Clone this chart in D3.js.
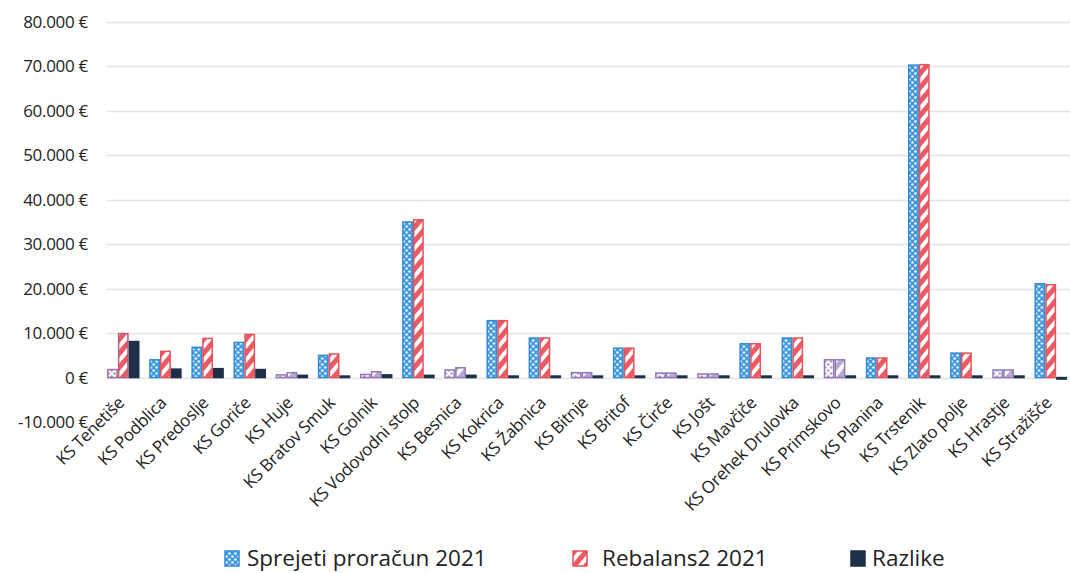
<!DOCTYPE html>
<html>
<head>
<meta charset="utf-8">
<script src="https://cdn.jsdelivr.net/npm/d3@7"></script>
<style>
  html, body { margin: 0; padding: 0; background: #fff; }
  svg { display: block; font-family: "Open Sans", "DejaVu Sans", sans-serif; }
</style>
</head>
<body>
<svg id="chart" width="1070" height="573"></svg>
<script>
// ---- data ----
const categories = ["KS Tenetiše","KS Podblica","KS Predoslje","KS Goriče","KS Huje","KS Bratov Smuk","KS Golnik","KS Vodovodni stolp","KS Besnica","KS Kokrica","KS Žabnica","KS Bitnje","KS Britof","KS Čirče","KS Jošt","KS Mavčiče","KS Orehek Drulovka","KS Primskovo","KS Planina","KS Trstenik","KS Zlato polje","KS Hrastje","KS Stražišče"];
const sprejeti  = [1800, 4000, 6800, 7900,  600, 5000,  700, 35000, 1700, 12800, 8900, 1100, 6600, 1000,  800, 7600, 8900, 4000, 4400, 70300, 5500, 1700, 21100];
const rebalans  = [9900, 5900, 8800, 9700, 1100, 5300, 1300, 35500, 2200, 12800, 8900, 1100, 6600, 1000,  800, 7600, 8900, 4000, 4400, 70400, 5500, 1700, 20900];
const razlike   = [8100, 1900, 2000, 1800,  500,  300,  600,   500,  500,   100,  100,    0,    0,    0,    0,    0,    0,    0,    0,   100,    0,    0,  -200];
const seriesNames = ["Sprejeti proračun 2021", "Rebalans2 2021", "Razlike"];
const yTicks = [-10000, 0, 10000, 20000, 30000, 40000, 50000, 60000, 70000, 80000];
// categories whose bars appear faded/purple in the scanned original
const fadedCats = ["KS Huje","KS Golnik","KS Besnica","KS Bitnje","KS Čirče","KS Jošt","KS Primskovo","KS Hrastje"];
const fadedFirstOnly = ["KS Tenetiše"];

// ---- setup ----
const svg = d3.select("#chart");
const defs = svg.append("defs");

function dotPattern(id, base, dot) {
  const p = defs.append("pattern").attr("id", id).attr("patternUnits", "userSpaceOnUse")
    .attr("width", 6).attr("height", 6);
  p.append("rect").attr("width", 6).attr("height", 6).attr("fill", base);
  p.append("circle").attr("cx", 1.5).attr("cy", 1.5).attr("r", 1.3).attr("fill", dot);
  p.append("circle").attr("cx", 4.5).attr("cy", 4.5).attr("r", 1.3).attr("fill", dot);
}
function stripePattern(id, col) {
  const p = defs.append("pattern").attr("id", id).attr("patternUnits", "userSpaceOnUse")
    .attr("width", 9).attr("height", 9).attr("patternTransform", "rotate(40)");
  p.append("rect").attr("width", 9).attr("height", 9).attr("fill", "#fff");
  p.append("rect").attr("width", 5).attr("height", 9).attr("fill", col);
}
dotPattern("pBlue", "#3d97de", "#ffffff");
stripePattern("pRed", "#ea5b64");
dotPattern("pBlueF", "#ffffff", "#a592c6");
stripePattern("pRedF", "#b9a8d6");

const y = d3.scaleLinear().domain([-10000, 80000]).range([422, 22]);
const x0 = d3.scaleBand().domain(categories).range([102, 1072]).paddingInner(0.23).paddingOuter(0.12);
const x1 = d3.scaleBand().domain(seriesNames).range([0, x0.bandwidth()]).padding(0);

const loc = d3.formatLocale({decimal: ",", thousands: ".", grouping: [3], currency: ["", ""], minus: "-"});
const fmt = loc.format(",.0f");

// gridlines (no visible line at the bottom tick)
svg.append("g").selectAll("line").data(yTicks.filter(t => t >= 0)).join("line")
  .attr("x1", 107).attr("x2", 1070)
  .attr("y1", d => Math.round(y(d)) + 0.5).attr("y2", d => Math.round(y(d)) + 0.5)
  .attr("stroke", "#e4e4e4").attr("stroke-width", 1.5);

// y axis
const yAxis = d3.axisLeft(y).tickValues(yTicks).tickSize(0).tickPadding(0).tickFormat(d => fmt(d) + " €");
const gy = svg.append("g").attr("transform", "translate(88,0)").call(yAxis);
gy.select(".domain").remove();
gy.selectAll("text").attr("font-size", 17).attr("fill", "#222").attr("font-family", "'Open Sans', sans-serif")
  .attr("letter-spacing", "-0.3");

// bars
const rows = categories.map((c, i) => ({cat: c, vals: [sprejeti[i], rebalans[i], razlike[i]]}));
const groups = svg.append("g").selectAll("g").data(rows).join("g")
  .attr("transform", d => `translate(${x0(d.cat)},0)`);

groups.each(function(d) {
  const g = d3.select(this);
  const faded = fadedCats.includes(d.cat);
  const fadedFirst = fadedFirstOnly.includes(d.cat);
  d.vals.forEach((v, k) => {
    const s = seriesNames[k];
    const yTop = y(Math.max(0, v)), yBot = y(Math.min(0, v));
    const h = Math.max(1.5, yBot - yTop);
    let fill, stroke;
    if (k === 0) { const f = faded || fadedFirst; fill = f ? "url(#pBlueF)" : "url(#pBlue)"; stroke = f ? "#a0709a" : "#2f8bd6"; if (faded) stroke = "#8e79b4"; }
    else if (k === 1) { fill = faded ? "url(#pRedF)" : "url(#pRed)"; stroke = faded ? "#8e79b4" : (fadedFirst ? "#b5607e" : "#e8505a"); }
    else { fill = "#1d3048"; stroke = "#1d3048"; }
    g.append("rect")
      .attr("x", x1(s) + 0.75).attr("y", v >= 0 ? yBot - h : yTop)
      .attr("width", x1.bandwidth() - 1.5).attr("height", h)
      .attr("fill", fill).attr("stroke", stroke).attr("stroke-width", 1.5);
  });
});

// x axis labels
const xAxis = d3.axisBottom(x0).tickSize(0).tickPadding(0);
const gx = svg.append("g").attr("transform", "translate(0,404)").call(xAxis);
gx.select(".domain").remove();
gx.selectAll("text")
  .attr("font-size", 17).attr("fill", "#222").attr("font-family", "'Open Sans', sans-serif")
  .attr("letter-spacing", "-0.3")
  .attr("text-anchor", "end").attr("dy", "0").attr("y", 0).attr("x", 0)
  .attr("transform", "translate(2,0) rotate(-45)");

// legend
const legendItems = [
  {name: seriesNames[0], x: 225, tx: 247, fill: "url(#pBlue)", stroke: "#2f8bd6"},
  {name: seriesNames[1], x: 573, tx: 602, fill: "url(#pRed)", stroke: "#e8505a"},
  {name: seriesNames[2], x: 851, tx: 872, fill: "#1d3048", stroke: "#1d3048"}
];
const lg = svg.append("g").selectAll("g").data(legendItems).join("g");
lg.append("rect").attr("x", d => d.x).attr("y", 551).attr("width", 14).attr("height", 15)
  .attr("fill", d => d.fill).attr("stroke", d => d.stroke).attr("stroke-width", 1.5);
lg.append("text").attr("x", d => d.tx).attr("y", 566)
  .attr("font-size", 22.5).attr("fill", "#222").text(d => d.name);
</script>
</body>
</html>
